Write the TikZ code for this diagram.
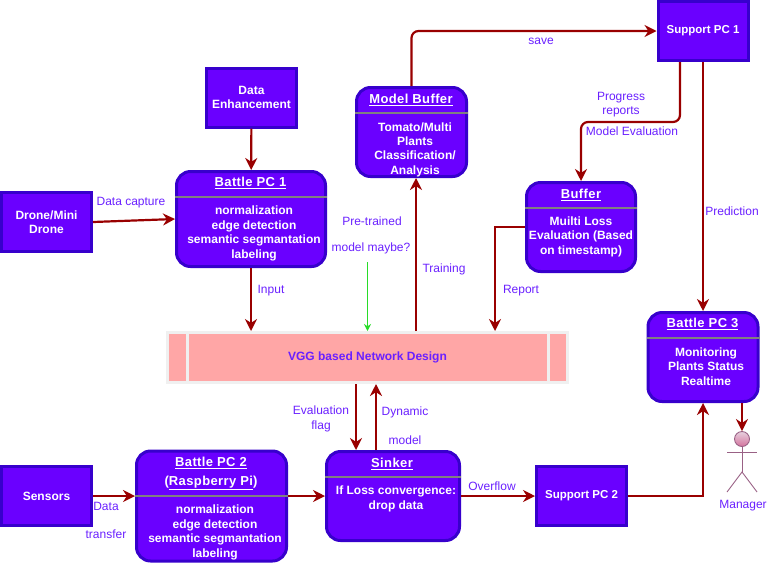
\documentclass[tikz,border=0pt]{standalone}
\usepackage{fontspec}
\setmainfont{Liberation Sans}
\usetikzlibrary{arrows.meta}
\definecolor{boxfill}{HTML}{6A00FF}
\definecolor{boxline}{HTML}{3700CC}
\definecolor{flowred}{HTML}{990000}
\definecolor{labelviolet}{HTML}{6A20FF}
\definecolor{actorline}{HTML}{996185}
\definecolor{blockline}{HTML}{F0F0F0}
\definecolor{blockfill}{HTML}{FFA6A6}
\tikzset{
  plainbox/.style={draw=boxline, fill=boxfill, line width=3pt, minimum width=90pt, minimum height=59pt, inner sep=0pt},
  roundbox/.style={draw=boxline, fill=boxfill, line width=3pt, rounded corners=14pt, inner sep=0pt},
  boxtext/.style={text=white, align=center, inner sep=0pt, font=\fontsize{12}{14.4}\selectfont\bfseries},
  boxtitle/.style={text=white, align=center, inner sep=0pt, font=\fontsize{13}{15}\selectfont\bfseries\addfontfeature{LetterSpace=3}},
  sepline/.style={draw=gray, line width=1.5pt},
  flow/.style={draw=flowred, line width=2.2pt, -{Stealth[length=12pt,width=12pt]}},
  flowlabel/.style={text=labelviolet, align=center, inner sep=0pt, yshift=-1pt, font=\fontsize{12}{14.4}\selectfont},
  actorlimb/.style={draw=actorline, line width=0.9pt}
}
\begin{document}
\begin{tikzpicture}[x=1pt, y=-1pt]
  \useasboundingbox (0,0) rectangle (767,563);
  % plain boxes
  \node[plainbox, boxtext] (enhance) at (251.5,97.5) {Data\\Enhancement};
  \node[plainbox, boxtext] (drone) at (46.5,222) {Drone/Mini\\Drone};
  \node[plainbox, boxtext] (sensors) at (46.5,496) {Sensors};
  \node[plainbox, boxtext, font=\fontsize{11.5}{14}\selectfont\bfseries] (support1) at (703,31) {Support PC 1};
  \node[plainbox, boxtext, font=\fontsize{11.5}{14}\selectfont\bfseries] (support2) at (581.5,496) {Support PC 2};
  % network block
  \node[draw=blockline, fill=blockfill, line width=3pt, minimum width=400pt, minimum height=50pt, inner sep=0pt,
    text=labelviolet, font=\fontsize{12}{14.4}\selectfont\bfseries] (vgg) at (367.5,357.5) {VGG based Network Design};
  \draw[draw=blockline, line width=3pt] (187,333) -- (187,382);
  \draw[draw=blockline, line width=3pt] (548,333) -- (548,382);
  % rounded boxes
  \node[roundbox, minimum width=149pt, minimum height=95pt] (pc1) at (251,219) {};
  \draw[sepline] (pc1.west |- 0,197) -- (pc1.east |- 0,197);
  \node[boxtitle] (pc1title) at (250.5,183) {\underline{Battle PC 1}};
  \node[boxtext] (pc1text) at (254,233.5) {normalization\\edge detection\\semantic segmantation\\labeling};
  \node[roundbox, minimum width=110pt, minimum height=89pt] (modelbuf) at (411.5,132) {};
  \draw[sepline] (modelbuf.west |- 0,113) -- (modelbuf.east |- 0,113);
  \node[boxtitle] (modelbuftitle) at (411,100) {\underline{Model Buffer}};
  \node[boxtext] (modelbuftext) at (415,149.5) {Tomato/Multi\\Plants\\Classification/\\Analysis};
  \node[roundbox, minimum width=109pt, minimum height=89pt] (buffer) at (581,227) {};
  \draw[sepline] (buffer.west |- 0,208) -- (buffer.east |- 0,208);
  \node[boxtitle] (buffertitle) at (581,195) {\underline{Buffer}};
  \node[boxtext] (buffertext) at (581,236.5) {Muilti Loss\\Evaluation (Based\\on timestamp)};
  \node[roundbox, minimum width=110pt, minimum height=89pt] (pc3) at (703,357) {};
  \draw[sepline] (pc3.west |- 0,338) -- (pc3.east |- 0,338);
  \node[boxtitle] (pc3title) at (702.5,324) {\underline{Battle PC 3}};
  \node[boxtext] (pc3text) at (706,366.5) {Monitoring\\Plants Status\\Realtime};
  \node[roundbox, minimum width=150pt, minimum height=110pt] (pc2) at (211.5,506) {};
  \draw[sepline] (pc2.west |- 0,496) -- (pc2.east |- 0,496);
  \node[boxtitle] (pc2title) at (211,463) {\underline{Battle PC 2}};
  \node[boxtitle] (pc2titleb) at (211,483) {(\underline{Raspberry Pi})};
  \node[boxtext] (pc2text) at (215,532.5) {normalization\\edge detection\\semantic segmantation\\labeling};
  \node[roundbox, minimum width=133pt, minimum height=89pt] (sinker) at (393,496) {};
  \draw[sepline] (sinker.west |- 0,477) -- (sinker.east |- 0,477);
  \node[boxtitle] (sinkertitle) at (392,464) {\underline{Sinker}};
  \node[boxtext] (sinkertext) at (396,499) {If Loss convergence:\\drop data};
  % manager
  \node[circle, draw=actorline, line width=0.9pt, top color={rgb,255:red,230;green,208;blue,222}, bottom color={rgb,255:red,213;green,115;blue,157},
    minimum size=15pt, inner sep=0pt] (head) at (742,439) {};
  \coordinate (hip) at (742,472);
  \coordinate (armleft) at (727,452);
  \coordinate (armright) at (757,452);
  \coordinate (footleft) at (727,492);
  \coordinate (footright) at (757,492);
  \draw[actorlimb] (head) -- (hip);
  \draw[actorlimb] (armleft) -- (armright);
  \draw[actorlimb] (footleft) -- (hip) -- (footright);
  \node[flowlabel] (managerlabel) at (743,505) {Manager};
  % bends and offsets of the connectors
  \coordinate (evalbend) at (680,122);
  \coordinate (reportbend) at (495,227);
  \coordinate (trainx) at (416,300);
  \coordinate (flagx) at (356,400);
  \coordinate (dynamicx) at (376,400);
  \coordinate (greenstart) at (367.5,262);
  % connectors
  \draw[flow] (enhance) -- (pc1);
  \draw[flow] (drone.east) -- (pc1.west);
  \draw[flow] (pc1.south) -- (vgg.north -| pc1.south);
  \draw[flow] (vgg.north -| trainx) -- (modelbuf.south -| trainx);
  \draw[flow, rounded corners=7pt] (modelbuf.north) |- (support1.west);
  \draw[flow, rounded corners=7pt] (support1.south -| evalbend) -- (evalbend) -| (buffer.north);
  \draw[flow] (support1.south) -- (pc3.north);
  \draw[flow] (reportbend -| buffer.west) -- (reportbend) -- (vgg.north -| reportbend);
  \draw[flow] (vgg.south -| flagx) -- (sinker.north -| flagx);
  \draw[flow] (sinker.north -| dynamicx) -- (vgg.south -| dynamicx);
  \draw[flow] (sensors.east) -- (pc2.west |- sensors.east);
  \draw[flow] (pc2.east |- sensors.east) -- (sinker.west |- sensors.east);
  \draw[flow] (sinker.east |- support2.west) -- (support2.west);
  \draw[flow] (support2.east) -| (pc3.south);
  \draw[flow] (pc3.south -| head) -- (head);
  \draw[draw={rgb,255:red,40;green,220;blue,40}, line width=1pt, -{Stealth[length=7pt,width=7pt]}] (greenstart) -- (vgg.north);
  % labels
  \node[flowlabel] (capturelabel) at (131,202) {Data capture};
  \node[flowlabel] (inputlabel) at (271,290) {Input};
  \node[flowlabel] (pretrainlabel) at (372,220) {Pre-trained};
  \node[flowlabel] (maybelabel) at (371,247) {model maybe?};
  \node[flowlabel] (trainlabel) at (444,268) {Training};
  \node[flowlabel] (savelabel) at (541,40) {save};
  \node[flowlabel] (progresslabel) at (621,103.5) {Progress\\reports};
  \node[flowlabel] (evallabel) at (632,130) {Model Evaluation};
  \node[flowlabel] (predictlabel) at (732,210) {Prediction};
  \node[flowlabel] (reportlabel) at (521,290) {Report};
  \node[flowlabel] (flaglabel) at (321,418) {Evaluation\\flag};
  \node[flowlabel] (dynamiclabel) at (405,411) {Dynamic};
  \node[flowlabel] (modellabel) at (405,439) {model};
  \node[flowlabel] (overflowlabel) at (492,485) {Overflow};
  \node[flowlabel] (datalabel) at (106,505) {Data};
  \node[flowlabel] (transferlabel) at (106,533) {transfer};
\end{tikzpicture}
\end{document}
